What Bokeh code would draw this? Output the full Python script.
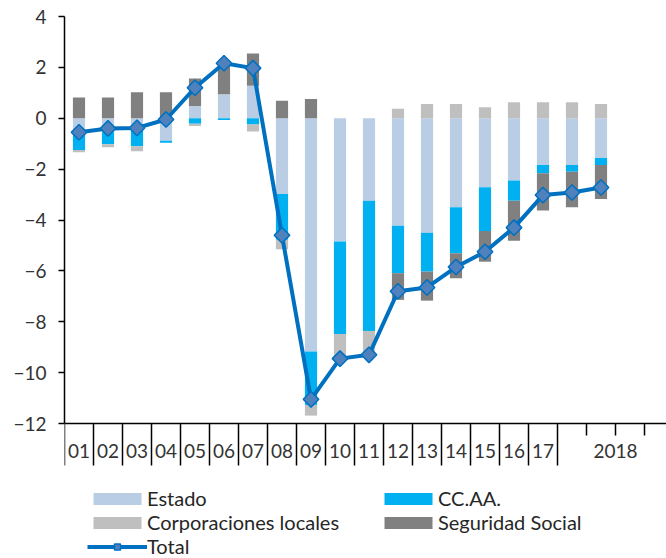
from bokeh.plotting import figure
from bokeh.models import (ColumnDataSource, Range1d, FixedTicker, CustomJSTickFormatter,
                          LinearAxis, Legend, LegendItem)
from bokeh.embed import file_html
from bokeh.resources import INLINE

# ---------------- data ----------------
periods = ["01", "02", "03", "04", "05", "06", "07", "08", "09", "10", "11", "12",
           "13", "14", "15", "16", "17", "2018a", "2018b"]
estado = [-0.45, -0.55, -0.50, -0.88, 0.48, 0.94, 1.28, -2.98, -9.17, -4.85, -3.24,
          -4.23, -4.50, -3.50, -2.71, -2.45, -1.84, -1.84, -1.56]
ccaa = [-0.80, -0.47, -0.60, -0.08, -0.22, -0.07, -0.25, -1.80, -2.10, -3.63, -5.12,
        -1.86, -1.53, -1.81, -1.72, -0.79, -0.32, -0.26, -0.28]
corp = [-0.09, -0.12, -0.20, 0.00, -0.08, 0.00, -0.27, -0.37, -0.42, -0.98, -0.92,
        0.37, 0.56, 0.56, 0.43, 0.63, 0.63, 0.63, 0.56]
segsoc = [0.82, 0.82, 1.02, 1.02, 1.08, 1.29, 1.27, 0.69, 0.76, 0.00, 0.00,
          -1.05, -1.14, -0.98, -1.21, -1.58, -1.47, -1.40, -1.33]
total = [-0.55, -0.40, -0.38, -0.05, 1.20, 2.16, 1.97, -4.60, -11.05, -9.45, -9.30,
         -6.80, -6.65, -5.85, -5.25, -4.30, -3.02, -2.92, -2.72]
tick_labels = ["01", "02", "03", "04", "05", "06", "07", "08", "09", "10", "11", "12",
               "13", "14", "15", "16", "17", "2018"]
series_names = ["Estado", "CC.AA.", "Corporaciones locales", "Seguridad Social"]

# ---------------- style ----------------
colors = ["#B9CDE5", "#00B0F0", "#BFBFBF", "#808080"]
FONT = "Lato"
TXT = "#333333"
Y_MIN, Y_MAX = -12, 4
PX_PER_UNIT = 407 / 16.0
SLOT_PX = 29.0

xs = [i + 0.5 for i in range(len(periods))]

p = figure(width=666, height=558, output_backend="svg", toolbar_location=None,
           x_range=Range1d(0, 602 / SLOT_PX),
           y_range=Range1d(Y_MAX - 542 / PX_PER_UNIT, Y_MAX),
           min_border_left=64, min_border_right=0, min_border_top=16, min_border_bottom=0)
p.outline_line_color = None
p.grid.visible = False
p.background_fill_color = "white"
p.border_fill_color = "white"

# stacked bars: positives upward, negatives downward
pos_base = [0.0] * len(xs)
neg_base = [0.0] * len(xs)
bar_renderers = []
for name, vals, col in zip(series_names, [estado, ccaa, corp, segsoc], colors):
    bottoms, tops = [], []
    for i, v in enumerate(vals):
        if v >= 0:
            bottoms.append(pos_base[i]); tops.append(pos_base[i] + v); pos_base[i] += v
        else:
            bottoms.append(neg_base[i]); tops.append(neg_base[i] + v); neg_base[i] += v
    src = ColumnDataSource(dict(x=xs, bottom=bottoms, top=tops))
    r = p.vbar(x="x", bottom="bottom", top="top", width=0.42, source=src,
               fill_color=col, line_color=None)
    bar_renderers.append(r)

tsrc = ColumnDataSource(dict(x=xs, y=total))
lr = p.line("x", "y", source=tsrc, line_color="#0070C0", line_width=4)
sr = p.scatter("x", "y", source=tsrc, marker="square", size=11, angle=0.785398,
               fill_color="#4F81BD", line_color="#0070C0", line_width=1.5)

# y axis
p.yaxis.bounds = (Y_MIN, Y_MAX)
p.yaxis.ticker = FixedTicker(ticks=list(range(Y_MIN, Y_MAX + 1, 2)))
p.yaxis.major_tick_out = 6
p.yaxis.major_tick_in = 0
p.yaxis.minor_tick_line_color = None
p.yaxis.axis_line_color = "black"
p.yaxis.axis_line_width = 1.5
p.yaxis.major_tick_line_width = 1.5
p.yaxis.major_label_text_font = FONT
p.yaxis.major_label_text_font_size = "19px"
p.yaxis.major_label_text_color = TXT
p.yaxis.major_label_standoff = 12

# x axis: long separators per year, short ticks within 2018
xa = p.xaxis[0]
xa.fixed_location = Y_MIN
xa.ticker = FixedTicker(ticks=list(range(0, 18)), minor_ticks=[18, 19, 20])
xa.formatter = CustomJSTickFormatter(code="return ''")
xa.major_tick_out = 42
xa.major_tick_in = 0
xa.minor_tick_out = 12
xa.minor_tick_in = 0
xa.axis_line_color = "black"
xa.axis_line_width = 1.5
xa.major_tick_line_width = 1.5
xa.minor_tick_line_width = 1.5
xa.minor_tick_line_color = "black"

# second axis carrying the category labels, centred between separators
lab_x = [i + 0.5 for i in range(17)] + [19.0]
xl = LinearAxis(fixed_location=Y_MIN,
                ticker=FixedTicker(ticks=lab_x, minor_ticks=[]),
                major_label_overrides={x: t for x, t in zip(lab_x, tick_labels)},
                axis_line_color=None, major_tick_line_color=None,
                major_tick_out=0, major_tick_in=0, minor_tick_out=0, minor_tick_in=0,
                major_label_standoff=20, major_label_text_font=FONT,
                major_label_text_font_size="19px", major_label_text_color=TXT)
p.add_layout(xl, "below")

# legend: two columns (filled column by column)
item_map = {n: LegendItem(label=n, renderers=[r]) for n, r in zip(series_names, bar_renderers)}
item_map["Total"] = LegendItem(label="Total", renderers=[lr, sr])
order = ["Estado", "Corporaciones locales", "Total", "CC.AA.", "Seguridad Social"]
legend = Legend(items=[item_map[k] for k in order], location=(23, 0), ncols=2,
                label_text_font=FONT, label_text_font_size="20px", label_text_color="#262626",
                glyph_width=60, glyph_height=15, label_height=22, label_width=231,
                label_standoff=0, spacing=0, padding=0, margin=0,
                border_line_color=None, background_fill_alpha=0)
p.add_layout(legend)

open("out.html", "w").write(file_html(p, INLINE))
